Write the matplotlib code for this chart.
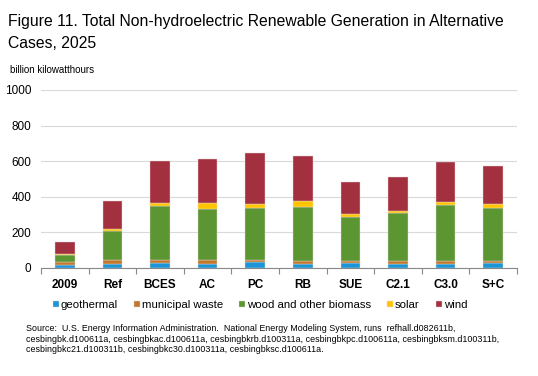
import matplotlib.pyplot as plt
import numpy as np

plt.rcParams['font.family'] = ['Liberation Sans', 'DejaVu Sans']

cases = ['2009', 'Ref', 'BCES', 'AC', 'PC', 'RB', 'SUE', 'C2.1', 'C3.0', 'S+C']
geothermal = [15, 24, 28, 24, 32, 24, 30, 24, 24, 26]
municipal_waste = [18, 19, 19, 19, 15, 17, 12, 17, 17, 15]
biomass = [40, 163, 303, 288, 291, 299, 242, 266, 314, 296]
solar = [3, 15, 14, 33, 21, 34, 19, 14, 15, 24]
wind = [72, 155, 238, 251, 286, 256, 179, 193, 228, 213]

series = [
    ('geothermal', geothermal, '#1b95d6'),
    ('municipal waste', municipal_waste, '#c27828'),
    ('wood and other biomass', biomass, '#5b9632'),
    ('solar', solar, '#ffc600'),
    ('wind', wind, '#a3303f'),
]

fig = plt.figure(figsize=(5.38, 3.76), dpi=100)
ax = fig.add_axes([41 / 538, 1 - 268 / 376, 476 / 538, 178 / 376])

x = np.arange(len(cases))
bottom = np.zeros(len(cases))
for name, vals, color in series:
    ax.bar(x, vals, width=0.41, bottom=bottom, color=color, label=name,
           edgecolor='#e8d8d8', linewidth=0.3, zorder=3)
    bottom += np.array(vals)

ax.set_ylim(0, 1000)
ax.set_xlim(-0.5, len(cases) - 0.5)
ax.set_yticks(range(0, 1001, 200))
ax.tick_params(axis='y', length=0, labelsize=8.5, pad=7)
ax.grid(axis='y', color='#d9d9d9', linewidth=0.8, zorder=0)
for s in ['top', 'right', 'left']:
    ax.spines[s].set_visible(False)
ax.spines['bottom'].set_color('#888888')

# category labels centered, ticks at boundaries
ax.set_xticks(np.arange(-0.5, len(cases), 1.0))
ax.set_xticklabels([])
ax.tick_params(axis='x', length=4, color='#888888', direction='out')
ax.set_xticks(x, minor=True)
ax.set_xticklabels(cases, minor=True, fontweight='bold', fontsize=8.5)
ax.tick_params(axis='x', which='minor', length=0, pad=8)

fig.text(8 / 538, 1 - 26 / 376,
         'Figure 11. Total Non-hydroelectric Renewable Generation in Alternative',
         fontsize=11.3)
fig.text(8 / 538, 1 - 48 / 376, 'Cases, 2025', fontsize=11.3)
fig.text(10 / 538, 1 - 73 / 376, 'billion kilowatthours', fontsize=7)

leg = fig.legend(loc='center', bbox_to_anchor=(260 / 538, 1 - 305 / 376), ncol=5,
                 frameon=False, fontsize=8.2, handlelength=0.55, handleheight=0.55,
                 handletextpad=0.15, columnspacing=1.4)

fig.text(26 / 538, 1 - 339 / 376,
         'Source:  U.S. Energy Information Administration.  National Energy Modeling System, runs  refhall.d082611b,\n'
         'cesbingbk.d100611a, cesbingbkac.d100611a, cesbingbkrb.d100311a, cesbingbkpc.d100611a, cesbingbksm.d100311b,\n'
         'cesbingbkc21.d100311b, cesbingbkc30.d100311a, cesbingbksc.d100611a.',
         fontsize=6.4, va='center', linespacing=1.25)

fig.savefig('out.png', dpi=100)
